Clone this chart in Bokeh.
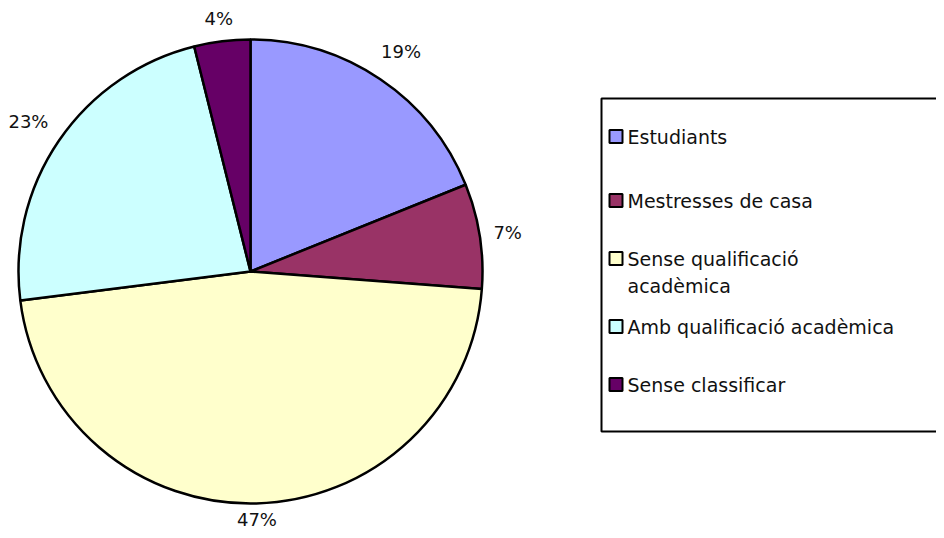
import math
from bokeh.plotting import figure
from bokeh.models import Range1d, ColumnDataSource
from bokeh.core.properties import value
from bokeh.embed import file_html
from bokeh.resources import INLINE

categories = ["Estudiants", "Mestresses de casa", "Sense qualificació\nacadèmica",
              "Amb qualificació acadèmica", "Sense classificar"]
shares = [18.9, 7.3, 46.8, 23.1, 3.9]
colors = ["#9999FF", "#993366", "#FFFFCC", "#CCFFFF", "#660066"]

W, H = 936, 530
FONT = "DejaVu Sans"

def py(y):  # image y (from top) -> data y
    return H - y

p = figure(width=W, height=H, output_backend="svg", toolbar_location=None,
           x_range=Range1d(0, W), y_range=Range1d(0, H),
           min_border=0)
p.axis.visible = False
p.grid.visible = False
p.outline_line_color = None
p.background_fill_color = "white"

cx, cy, R = 250, py(271), 232
total = sum(shares)
starts, ends, lx, ly, labels = [], [], [], [], []
acc = 0.0
for v in shares:
    f0 = acc / total
    f1 = (acc + v) / total
    a0 = math.pi / 2 - 2 * math.pi * f0
    a1 = math.pi / 2 - 2 * math.pi * f1
    starts.append(a0)
    ends.append(a1)
    th = math.pi * (f0 + f1)          # clockwise from top
    r = 252 + 14 * abs(math.sin(2 * th))
    x = cx + r * math.sin(th) + 4 * math.sin(th)
    y = 271 - r * math.cos(th)
    y = min(y, H - 11)
    lx.append(x)
    ly.append(py(y))
    labels.append(f"{round(v / total * 100)}%")
    acc += v

src = ColumnDataSource(dict(start=starts, end=ends, color=colors))
p.wedge(x=cx, y=cy, radius=R, start_angle="start", end_angle="end",
        direction="clock", fill_color="color", line_color="black",
        line_width=2.5, source=src)

p.text(x=lx, y=ly, text=labels, text_align="center", text_baseline="middle",
       text_font=value(FONT), text_font_size="18px", text_color="#111111")

# legend box
p.quad(left=601, right=990, top=py(98), bottom=py(431), fill_color="white",
       line_color="black", line_width=2)

row_y = [136, 200, 258, 326, 384]
line_gap = 27
sw_x, tx = 615.5, 627
p.rect(x=[sw_x] * len(colors), y=[py(y) for y in row_y], width=13, height=13,
       fill_color=colors, line_color="black", line_width=2)
txs, tys, tts = [], [], []
for cat, y in zip(categories, row_y):
    for k, line in enumerate(cat.split("\n")):
        txs.append(tx)
        tys.append(py(y + k * line_gap))
        tts.append(line)
p.text(x=txs, y=tys, text=tts, text_align="left", text_baseline="middle",
       text_font=value(FONT), text_font_size="19px", text_color="#111111")

open("out.html", "w").write(file_html(p, INLINE))
